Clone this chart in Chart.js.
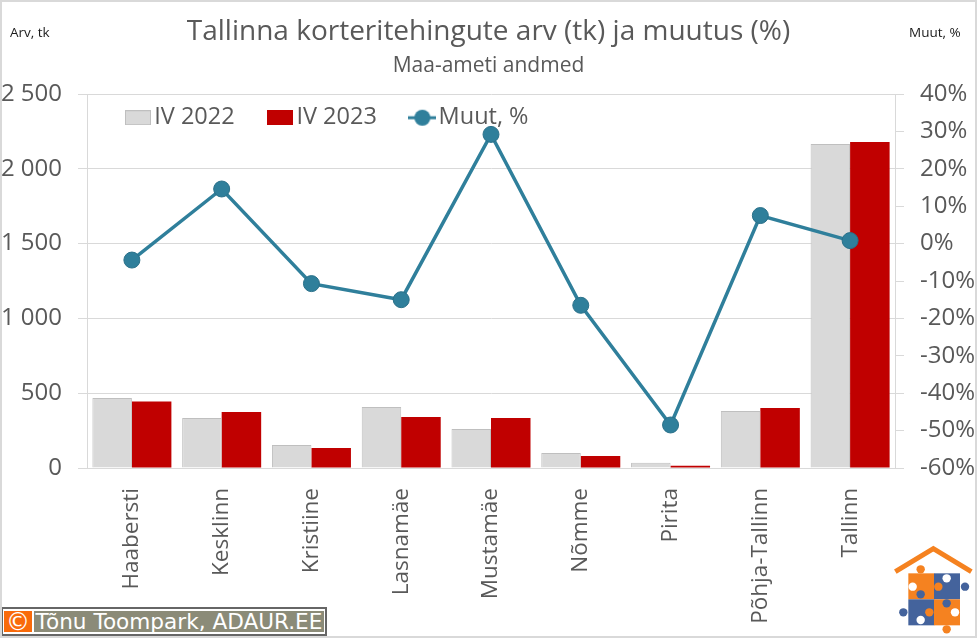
<!DOCTYPE html>
<html>
<head>
<meta charset="utf-8">
<title>Tallinna korteritehingute arv</title>
<script src="https://cdn.jsdelivr.net/npm/chart.js@4"></script>
<style>
  html, body { margin: 0; padding: 0; background: #fff; }
  #wrap { position: relative; width: 977px; height: 638px; overflow: hidden; font-family: "Open Sans", sans-serif; }
  #frame { position: absolute; inset: 0; border: 2px solid #d9d9d9; pointer-events: none; }
  canvas { position: absolute; left: 0; top: 0; }
  .unit { position: absolute; top: 23px; font-size: 13.5px; color: #1a1a1a; }
  #credit { position: absolute; left: 1px; top: 607px; width: 326px; height: 29px; box-sizing: border-box;
    border: 2px solid #666; background: #fff; font-family: "DejaVu Sans", sans-serif; color: #fff; font-size: 21.6px; line-height: 22px; }
  #credit span { position: absolute; top: 2px; height: 21px; }
  #credit .c { left: 1px; width: 28px; background: #f96a0a; text-align: center; font-size: 24px; }
  #credit .t { left: 31px; width: 290px; background: #8b8b78; text-align: center; white-space: nowrap; }
</style>
</head>
<body>
<div id="wrap">
  <canvas id="chart" width="977" height="638"></canvas>
  <div class="unit" style="left:10px">Arv, tk</div>
  <div class="unit" style="left:909px">Muut, %</div>
  <div id="credit"><span class="c">©</span><span class="t">Tõnu Toompark, ADAUR.EE</span></div>
  <div id="frame"></div>
</div>
<script>
const categories = ['Haabersti', 'Kesklinn', 'Kristiine', 'Lasnamäe', 'Mustamäe', 'Nõmme', 'Pirita', 'Põhja-Tallinn', 'Tallinn'];
const iv2022 = [468, 334, 154, 408, 261, 100, 35, 381, 2166];
const iv2023 = [444, 374, 134, 341, 334, 80, 15, 401, 2179];
const muutus = [-4.4, 14.6, -10.7, -15, 29.2, -16.5, -48.5, 7.5, 0.8];

const grey = '#d9d9d9';
const red = '#c00000';
const teal = '#2f7f9b';
const textGrey = '#595959';
const tickFont = { family: '"Open Sans"', size: 24 };

// legend glyphs as small canvases so the swatch size can differ from the text size
function swatch(fill, edge) {
  const c = document.createElement('canvas');
  c.width = 26; c.height = 15;
  const x = c.getContext('2d');
  x.fillStyle = fill;
  x.fillRect(0, 0, 26, 15);
  if (edge) {
    x.strokeStyle = edge;
    x.strokeRect(0.5, 0.5, 25, 14);
  }
  return c;
}

function lineGlyph() {
  const c = document.createElement('canvas');
  c.width = 28; c.height = 18;
  const x = c.getContext('2d');
  x.strokeStyle = teal;
  x.lineWidth = 3;
  x.beginPath(); x.moveTo(0, 9); x.lineTo(28, 9); x.stroke();
  x.fillStyle = teal;
  x.beginPath(); x.arc(14, 9, 8, 0, Math.PI * 2); x.fill();
  return c;
}

const glyphs = [swatch(grey, '#bfbfbf'), swatch(red), lineGlyph()];

// legend sits inside the plot, so it must not take any layout height
const legendPlacer = {
  id: 'legendPlacer',
  beforeLayout(chart) {
    const l = chart.legend;
    if (!l._fitOrig) {
      l._fitOrig = l.fit;
      l.fit = function () {
        this._fitOrig();
        this.height = 0;
      };
    }
  },
  afterLayout(chart) {
    const l = chart.legend;
    l.left = 92.5;
    l.top = 65;
    l.right = 977;
    l.bottom = 200;
  }
};

// company logo, bottom right corner
const logo = {
  id: 'logo',
  afterDraw(chart) {
    const ctx = chart.ctx;
    const orange = '#f58220', blue = '#44639c';
    const X = v => 870 + v / 3, Y = v => 530 + v / 3;
    const dot = (x, y, col) => {
      ctx.fillStyle = col;
      ctx.beginPath(); ctx.arc(X(x), Y(y), 4.2, 0, Math.PI * 2); ctx.fill();
    };
    ctx.save();
    ctx.strokeStyle = orange;
    ctx.lineWidth = 5;
    ctx.beginPath(); ctx.moveTo(X(76), Y(125)); ctx.lineTo(X(190), Y(56)); ctx.lineTo(X(304), Y(125)); ctx.stroke();
    [[115, 130, orange], [192, 130, blue], [115, 208, blue], [192, 208, orange]].forEach(p => {
      ctx.fillStyle = p[2];
      ctx.fillRect(X(p[0]), Y(p[1]), 26, 26);
    });
    dot(152, 118, orange); dot(205, 170, orange); dot(178, 247, orange); dot(230, 298, orange);
    dot(285, 170, blue); dot(152, 193, blue); dot(100, 247, blue); dot(230, 220, blue);
    dot(128, 170, '#fff'); dot(230, 145, '#fff'); dot(152, 270, '#fff'); dot(255, 247, '#fff');
    ctx.restore();
  }
};

new Chart(document.getElementById('chart'), {
  type: 'bar',
  data: {
    labels: categories,
    datasets: [
      { label: 'IV 2022', data: iv2022, backgroundColor: grey, borderColor: '#bfbfbf', borderWidth: 1, yAxisID: 'y', order: 2 },
      { label: 'IV 2023', data: iv2023, backgroundColor: red, yAxisID: 'y', order: 2 },
      {
        label: 'Muut, %', data: muutus, type: 'line', yAxisID: 'y1', order: 1,
        borderColor: teal, backgroundColor: teal, borderWidth: 3.5, tension: 0,
        pointRadius: 8, pointBackgroundColor: teal, pointBorderColor: '#2a7089', pointBorderWidth: 1
      }
    ]
  },
  options: {
    responsive: false,
    animation: false,
    categoryPercentage: 0.88,
    barPercentage: 1,
    plugins: {
      tooltip: { enabled: false },
      title: {
        display: true,
        text: 'Tallinna korteritehingute arv (tk) ja muutus (%)',
        color: textGrey,
        font: { family: '"Open Sans"', size: 28, weight: 'normal' },
        padding: { top: 15, bottom: 0 }
      },
      subtitle: {
        display: true,
        text: 'Maa-ameti andmed',
        color: textGrey,
        font: { family: '"Open Sans"', size: 21, weight: 'normal' },
        padding: { top: 4.8, bottom: 15.4 }
      },
      legend: {
        position: 'top',
        align: 'start',
        labels: {
          color: textGrey,
          font: { family: '"Open Sans"', size: 23.5 },
          padding: 41,
          usePointStyle: true,
          pointStyleWidth: 9,
          boxHeight: 15,
          generateLabels(chart) {
            return chart.data.datasets.map((ds, i) => ({
              text: ds.label,
              pointStyle: glyphs[i],
              fontColor: textGrey,
              datasetIndex: i,
              lineWidth: 0
            }));
          }
        }
      }
    },
    scales: {
      x: {
        afterFit(scale) { scale.height = 170; },
        grid: { display: false },
        border: { color: grey },
        ticks: { color: textGrey, font: { family: '"Open Sans"', size: 22.5 }, minRotation: 90, maxRotation: 90, padding: 12 }
      },
      y: {
        position: 'left',
        min: 0,
        max: 2500,
        afterFit(scale) { scale.width = 87; },
        grid: { color: grey, tickLength: 9 },
        border: { color: grey },
        ticks: {
          stepSize: 500,
          autoSkip: false,
          color: textGrey,
          font: tickFont,
          padding: 16,
          callback: v => String(v).replace(/\B(?=(\d{3})+$)/g, ' ')
        }
      },
      y1: {
        position: 'right',
        min: -60,
        max: 40,
        afterFit(scale) { scale.width = 82; },
        grid: { color: grey, tickLength: 9, drawOnChartArea: false },
        border: { color: grey },
        ticks: {
          stepSize: 10,
          autoSkip: false,
          color: textGrey,
          font: tickFont,
          padding: 16,
          callback: v => v + '%'
        }
      }
    }
  },
  plugins: [legendPlacer, logo]
});
</script>
</body>
</html>
